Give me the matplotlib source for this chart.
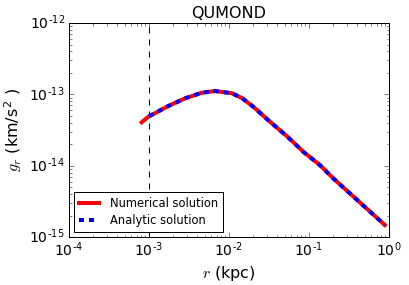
import numpy as np
import matplotlib
matplotlib.use('Agg')
import matplotlib.pyplot as plt

plt.style.use('classic')
plt.rcParams['mathtext.fontset'] = 'custom'
plt.rcParams['mathtext.rm'] = 'DejaVu Sans'
plt.rcParams['mathtext.it'] = 'cmmi10'
plt.rcParams['mathtext.bf'] = 'DejaVu Sans:bold'
plt.rcParams['xtick.major.size'] = 5
plt.rcParams['ytick.major.size'] = 5
plt.rcParams['xtick.minor.size'] = 2.5
plt.rcParams['ytick.minor.size'] = 2.5

# numerical solution (kpc, km/s^2)
r_num = [8.1e-4, 9.8e-4, 1.74e-3, 2.82e-3, 4.56e-3, 6.68e-3, 1.08e-2,
         1.45e-2, 2.01e-2, 3.26e-2, 5.26e-2, 8.49e-2, 0.137, 0.201, 0.89]
g_num = [4.06e-14, 4.85e-14, 6.86e-14, 8.79e-14, 1.054e-13, 1.114e-13,
         1.04e-13, 8.9e-14, 6.71e-14, 4.13e-14, 2.61e-14, 1.57e-14,
         1.02e-14, 6.65e-15, 1.47e-15]

# analytic solution
r_ana = [1.0e-3, 1.74e-3, 2.82e-3, 4.56e-3, 6.68e-3, 1.08e-2, 1.45e-2,
         2.01e-2, 3.26e-2, 5.26e-2, 8.49e-2, 0.137, 0.201, 0.89]
g_ana = [4.93e-14, 6.86e-14, 8.79e-14, 1.054e-13, 1.114e-13, 1.04e-13,
         8.9e-14, 6.71e-14, 4.13e-14, 2.61e-14, 1.57e-14, 1.02e-14,
         6.65e-15, 1.47e-15]

r_min = 1e-3

x_exp = ['-4', '-3', '-2', '-1', '0']
y_exp = ['-15', '-14', '-13', '-12']


def plot_data():
    fig = plt.figure(figsize=(409 / 72., 285 / 72.), dpi=72, facecolor='white')
    ax = fig.add_axes([0.1687, 0.1684, 0.951 - 0.1687, 0.919 - 0.1684])

    ax.axvline(r_min, color='k', ls='--', lw=1)
    ax.plot(r_num, g_num, color='red', lw=4, ls='-', label='Numerical solution')
    ax.plot(r_ana, g_ana, color='blue', lw=4, ls=(0, (5, 5)),
            label='Analytic solution')

    ax.set_xscale('log')
    ax.set_yscale('log')
    ax.set_xlim(1e-4, 1)
    ax.set_ylim(1e-15, 1e-12)

    ax.set_xticks([10.0 ** int(e) for e in x_exp])
    ax.set_xticklabels([r'$10^{\text{%s}}$' % e for e in x_exp], fontsize=14)
    ax.set_yticks([10.0 ** int(e) for e in y_exp])
    ax.set_yticklabels([r'$10^{\text{%s}}$' % e for e in y_exp], fontsize=14)

    ax.set_xlabel('$r$ (kpc)', fontsize=16)
    ax.set_ylabel('$g_r$ (km/s$^2$ )', fontsize=16)
    ax.set_title('QUMOND', fontsize=16)

    leg = ax.legend(loc='lower left', fontsize=11.5, numpoints=1,
                    handlelength=1.8, handletextpad=0.9, fancybox=False,
                    borderaxespad=0.45, labelspacing=0.4)
    leg.get_frame().set_edgecolor('k')

    fig.savefig('out.png', dpi=72, facecolor='white')


if __name__ == '__main__':
    plot_data()
